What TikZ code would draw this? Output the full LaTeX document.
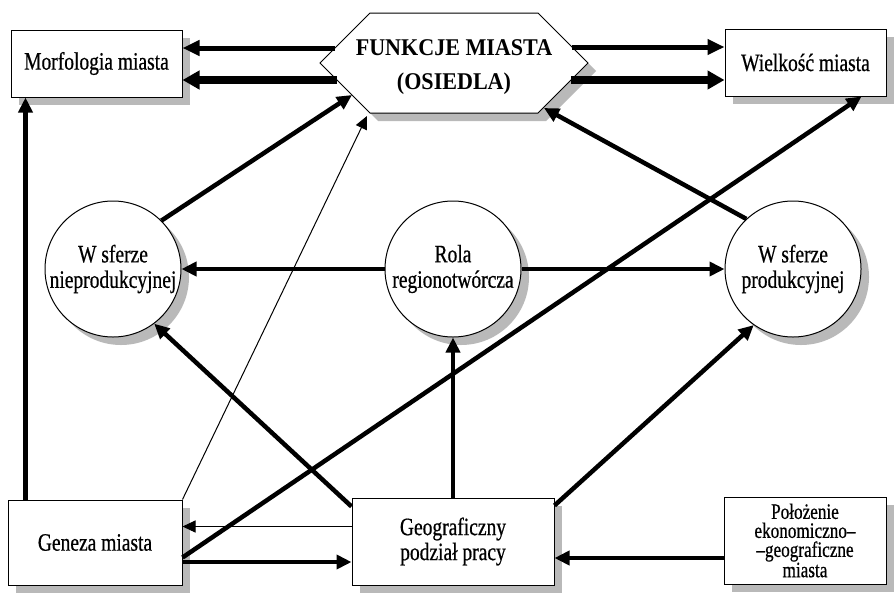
\documentclass[tikz,border=0pt]{standalone}
\usepackage{fontspec}
\setmainfont{Liberation Serif}[FakeStretch=0.78,FakeBold=0.6]
\newfontfamily\titlefont{Liberation Serif}[FakeStretch=0.92]
\usetikzlibrary{arrows.meta,shadows,calc}
\begin{document}
\begin{tikzpicture}[x=1pt,y=-1pt,
  shad/.style={drop shadow={shadow xshift=8pt,shadow yshift=-8pt,fill=gray!55,opacity=1}},
  box/.style={draw=black,line width=1pt,fill=white,inner sep=0pt,shad,align=center,font=\fontsize{25}{25}\selectfont},
  circ/.style={circle,draw=black,line width=1pt,fill=white,minimum size=136pt,inner sep=0pt,shad,align=center,font=\fontsize{25}{25.5}\selectfont},
  arr/.style={line width=4.5pt,-{Triangle[length=15pt,width=14pt]}},
  midarr/.style={line width=5pt,-{Triangle[length=17pt,width=15pt]}},
  fatarr/.style={line width=8pt,-{Triangle[length=17pt,width=18pt]}},
  thinarr/.style={line width=1pt,-{Triangle[length=13pt,width=12pt]}}]
\useasboundingbox[fill=white] (0,0) rectangle (896,592);
% boxes
\node[box,minimum width=171pt,minimum height=67pt] (morf) at (96.5,63.5) {Morfologia miasta};
\node[box,minimum width=161pt,minimum height=67pt] (wielk) at (805.5,62.5) {Wielkość miasta};
\node[box,minimum width=174pt,minimum height=85pt] (geneza) at (95,542.5) {Geneza miasta};
\node[box,minimum width=202pt,minimum height=87pt] (geo) at (453,541.5) {Geograficzny\\podział pracy};
\node[box,minimum width=162pt,minimum height=87pt,font=\fontsize{22}{19}\selectfont] (polo) at (805,540.5) {Położenie\\ekonomiczno–\\–geograficzne\\miasta};
% circles
\node[circ] (nprod) at (113,269) {W sferze\\nieprodukcyjnej};
\node[circ] (rola) at (453,269) {Rola\\regionotwórcza};
\node[circ] (prod) at (793,269) {W sferze\\produkcyjnej};
% hexagon
\fill[gray!55,shift={(8,8)}] (370,13) -- (538,13) -- (588,63) -- (538,113) -- (370,113) -- (320,63) -- cycle;
\draw[fill=white,line width=1pt] (370,13) -- (538,13) -- (588,63) -- (538,113) -- (370,113) -- (320,63) -- cycle;
\node[align=center,font=\titlefont\fontsize{24}{34}\selectfont\bfseries] (hex) at (454,67) {FUNKCJE MIASTA\\(OSIEDLA)};
\coordinate (hexUL) at (335,48);
\coordinate (hexLL) at (337,80);
\coordinate (hexUR) at (572,47);
\coordinate (hexLR) at (571,80);
\coordinate (hexA) at (352,95);
\coordinate (hexB) at (367,116);
\coordinate (hexC) at (544,108);
% hexagon to top boxes
\draw[midarr] (hexUL) -- (morf.east |- hexUL);
\draw[fatarr] (hexLL) -- (morf.east |- hexLL);
\draw[midarr] (hexUR) -- (wielk.west |- hexUR);
\draw[fatarr] (hexLR) -- (wielk.west |- hexLR);
% into hexagon
\draw[arr] (nprod.45) -- (hexA);
\draw[thinarr] (geneza.north east) -- (hexB);
\draw[arr] (prod.133) -- (hexC);
% rola
\draw[arr] (rola.west) -- (nprod.east);
\draw[arr] (rola.east) -- (prod.west);
% geneza
\draw[arr] ($(geneza.north west)+(18,0)$) -- ($(morf.south west)+(15,0)$);
\draw[arr] ($(geneza.east)+(0,15)$) -- ($(wielk.south east)+(-25,0)$);
\draw[arr] ($(geneza.east)+(0,19.5)$) coordinate (g1) -- (geo.west |- g1);
% geo
\draw[thinarr] ($(geo.west)+(0,-15)$) coordinate (g2) -- (geneza.east |- g2);
\draw[arr] ($(geo.north west)+(0,9)$) -- (nprod.-53);
\draw[arr] (geo.north) -- (rola.south);
\draw[arr] ($(geo.north east)+(0,8)$) -- (prod.235);
% polozenie
\draw[arr] ($(polo.west)+(0,17.5)$) coordinate (p1) -- (geo.east |- p1);
\end{tikzpicture}
\end{document}
